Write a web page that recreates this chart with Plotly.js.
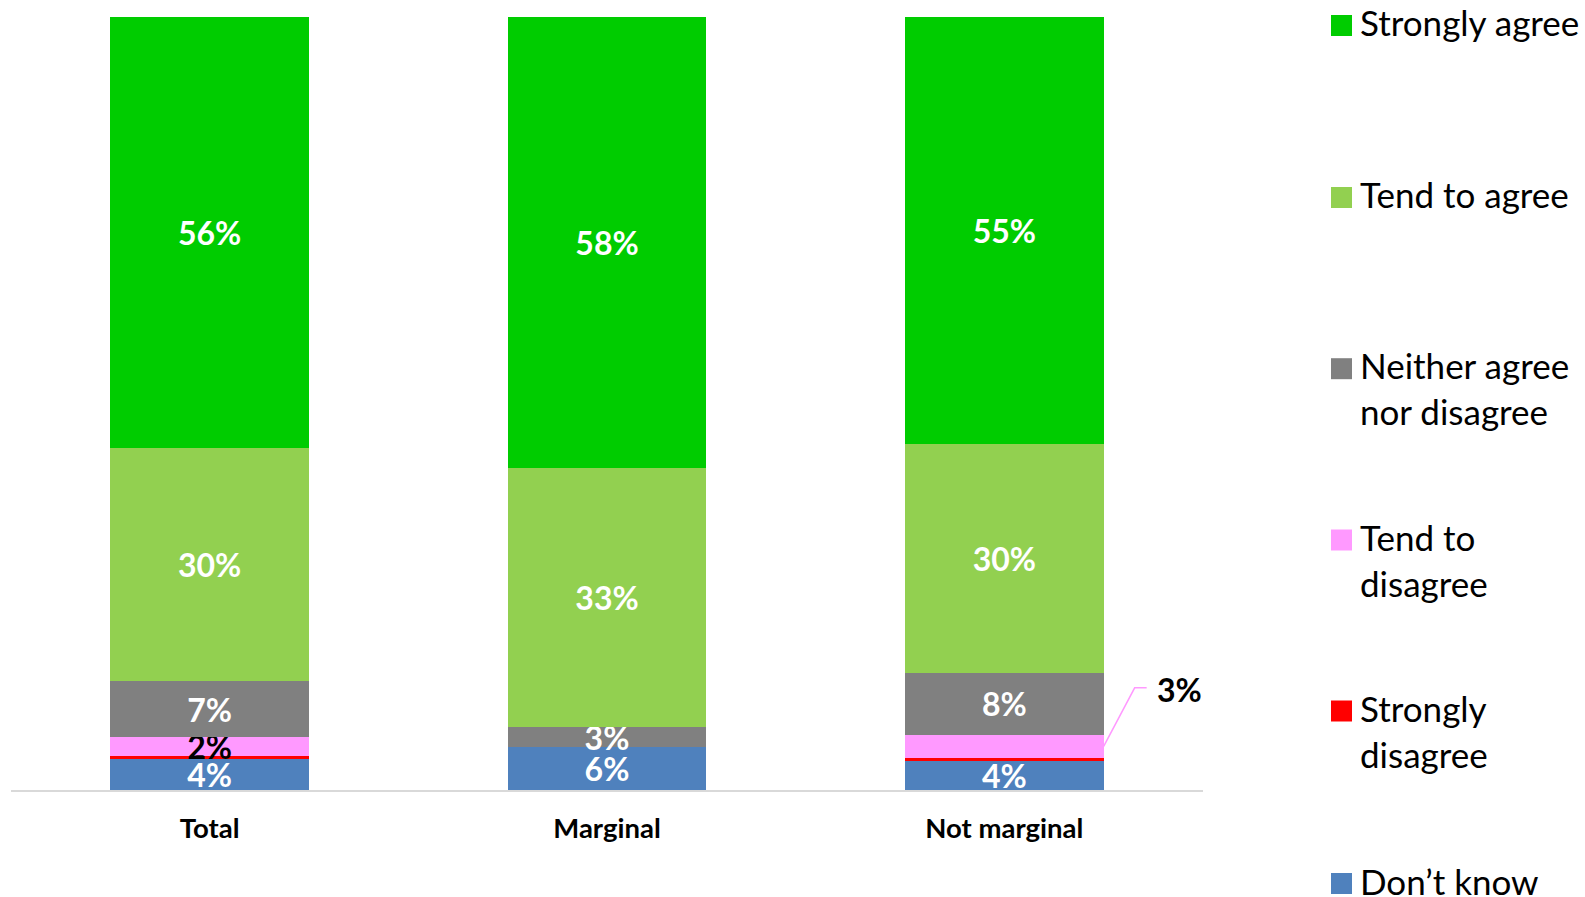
<!DOCTYPE html>
<html>
<head>
<meta charset="utf-8">
<script src="https://cdn.plot.ly/plotly-3.0.1.min.js"></script>
<style>
  html, body { margin: 0; padding: 0; background: #ffffff; }
  #chart { width: 1585px; height: 897px; }
</style>
</head>
<body>
<div id="chart"></div>
<script>
// ---- Data ----
const categories = ['Total', 'Marginal', 'Not marginal'];
const seriesNames = ['Strongly agree', 'Tend to agree', 'Neither agree<br>nor disagree', 'Tend to<br>disagree', 'Strongly<br>disagree', 'Don’t know'];

const dontKnow         = [4.0, 5.5, 3.8];
const stronglyDisagree = [0.4, 0.0, 0.4];
const tendDisagree     = [2.4, 0.0, 2.9];
const neither          = [7.3, 2.7, 8.1];
const tendAgree        = [30.2, 33.4, 29.6];
const stronglyAgree    = [55.7, 58.4, 55.2];

const dkLabels = ['4%', '6%', '4%'];
const sdLabels = ['', '', ''];
const tdLabels = ['2%', '', ''];
const nLabels  = ['7%', '3%', '8%'];
const taLabels = ['30%', '33%', '30%'];
const saLabels = ['56%', '58%', '55%'];

const calloutCategoryIndex = 2;   // Tend to disagree, Not marginal
const calloutLabel = '3%';

// ---- Styling ----
const colors = {
  sa: '#00cc00', ta: '#92d050', n: '#808080', td: '#ff99ff', sd: '#ff0000', dk: '#4f81bd'
};
const FONT = 'Lato, "Open Sans", sans-serif';
const M = { l: 11, r: 382, t: 17, b: 107 };
const W = 1585, H = 897;
const plotW = W - M.l - M.r, plotH = H - M.t - M.b;
const px2paperX = px => (px - M.l) / plotW;
const px2paperY = py => (H - M.b - py) / plotH;

function barTrace(name, values, labels, color, textColor) {
  return {
    type: 'bar',
    name: name,
    x: categories,
    y: values,
    text: labels,
    texttemplate: '%{text}',
    textposition: 'inside',
    insidetextanchor: 'middle',
    constraintext: 'none',
    textangle: 0,
    insidetextfont: { family: FONT, size: 32, color: textColor, weight: 'bold' },
    marker: { color: color, line: { width: 0 } },
    hoverinfo: 'skip',
    showlegend: false
  };
}

const traces = [
  barTrace('Don’t know', dontKnow, dkLabels, colors.dk, '#ffffff'),
  barTrace('Strongly disagree', stronglyDisagree, sdLabels, colors.sd, '#ffffff'),
  barTrace('Tend to disagree', tendDisagree, tdLabels, colors.td, '#000000'),
  barTrace('Neither agree nor disagree', neither, nLabels, colors.n, '#ffffff'),
  barTrace('Tend to agree', tendAgree, taLabels, colors.ta, '#ffffff'),
  barTrace('Strongly agree', stronglyAgree, saLabels, colors.sa, '#ffffff')
];

// ---- Custom legend (shapes + annotations) ----
const legendColors = [colors.sa, colors.ta, colors.n, colors.td, colors.sd, colors.dk];
const legendCenters = [25.5, 197.5, 368.7, 540, 711, 883.5];
const shapes = [];
const annotations = [];
seriesNames.forEach((nm, i) => {
  const cy = legendCenters[i];
  shapes.push({
    type: 'rect', xref: 'paper', yref: 'paper',
    x0: px2paperX(1331), x1: px2paperX(1352),
    y0: px2paperY(cy + 10.5), y1: px2paperY(cy - 10.5),
    fillcolor: legendColors[i], line: { width: 0 }
  });
  const lines = nm.split('<br>').length;
  annotations.push({
    xref: 'paper', yref: 'paper',
    x: px2paperX(1358), y: px2paperY(cy - 3 + (lines - 1) * 22.5),
    xanchor: 'left', yanchor: 'middle', align: 'left',
    text: nm, showarrow: false,
    font: { family: FONT, size: 35, color: '#000000' }
  });
});

// ---- Callout for the small pink segment ----
const ci = calloutCategoryIndex;
const calloutY = dontKnow[ci] + stronglyDisagree[ci] + tendDisagree[ci] / 2;
shapes.push({
  type: 'path', xref: 'x', yref: 'y',
  xsizemode: 'pixel', ysizemode: 'pixel',
  xanchor: ci + 0.25, yanchor: calloutY,
  path: 'M0,0 L31,58.5 L43,58.5',
  line: { color: colors.td, width: 1.5 }
});
annotations.push({
  xref: 'x', yref: 'y', x: ci + 0.25, y: calloutY,
  xanchor: 'left', yanchor: 'middle',
  xshift: 51, yshift: 57,
  text: calloutLabel, showarrow: false,
  font: { family: FONT, size: 32, color: '#000000', weight: 'bold' }
});

const layout = {
  width: W, height: H,
  margin: M,
  paper_bgcolor: '#ffffff', plot_bgcolor: '#ffffff',
  barmode: 'stack',
  bargap: 0.5,
  showlegend: false,
  xaxis: {
    type: 'category',
    range: [-0.5, 2.5],
    showline: true, linecolor: '#d9d9d9', linewidth: 2,
    showgrid: false, zeroline: false, ticks: '',
    ticklabelstandoff: 13,
    tickfont: { family: FONT, size: 27.5, color: '#000000', weight: 'bold' },
    fixedrange: true
  },
  yaxis: {
    range: [0, 100],
    visible: false, showgrid: false, zeroline: false, fixedrange: true
  },
  shapes: shapes,
  annotations: annotations,
  font: { family: FONT }
};

Plotly.newPlot('chart', traces, layout, { displayModeBar: false, staticPlot: true });
</script>
</body>
</html>
